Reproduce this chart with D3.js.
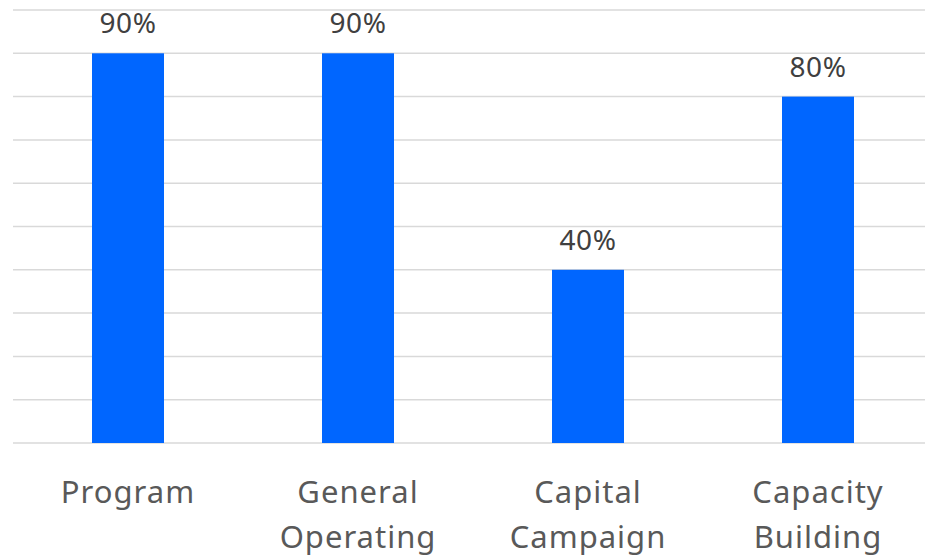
<!DOCTYPE html>
<html>
<head>
<meta charset="utf-8">
<script src="https://cdn.jsdelivr.net/npm/d3@7"></script>
<style>
  html, body { margin: 0; padding: 0; background: #fff; }
  svg { display: block; }
</style>
</head>
<body>
<svg id="chart" width="925" height="558"></svg>
<script>
// Share of funders offering each type of support
const categories = [["Program"], ["General", "Operating"], ["Capital", "Campaign"], ["Capacity", "Building"]];
const values = [90, 90, 40, 80];
const gridTicks = [0, 10, 20, 30, 40, 50, 60, 70, 80, 90, 100];

const W = 925, H = 558;
const svg = d3.select("#chart");

const keys = categories.map(c => c.join(" "));
const x = d3.scaleBand()
  .domain(keys)
  .range([13, 933])
  .paddingInner(0.687)
  .paddingOuter(0.3435);

const y = d3.scaleLinear().domain([0, 100]).range([443, 10]);

// horizontal gridlines
svg.append("g")
  .selectAll("line")
  .data(gridTicks)
  .join("line")
  .attr("x1", 13).attr("x2", W)
  .attr("y1", d => y(d)).attr("y2", d => y(d))
  .attr("stroke", "#d9d9d9")
  .attr("stroke-width", 1.5);

// bars
svg.append("g")
  .selectAll("rect")
  .data(values)
  .join("rect")
  .attr("x", (d, i) => x(keys[i]))
  .attr("width", x.bandwidth())
  .attr("y", d => y(d))
  .attr("height", d => y(0) - y(d))
  .attr("fill", "#0066ff");

// value labels above bars
svg.append("g")
  .selectAll("text")
  .data(values)
  .join("text")
  .attr("x", (d, i) => x(keys[i]) + x.bandwidth() / 2)
  .attr("y", d => y(d) - 20)
  .attr("text-anchor", "middle")
  .attr("font-family", "'Noto Sans', sans-serif")
  .attr("font-size", 28)
  .attr("letter-spacing", 0.5)
  .attr("fill", "#404040")
  .text(d => d + "%");

// category labels
const cat = svg.append("g")
  .selectAll("text")
  .data(categories)
  .join("text")
  .attr("x", (d, i) => x(keys[i]) + x.bandwidth() / 2)
  .attr("y", 503)
  .attr("text-anchor", "middle")
  .attr("font-family", "'Noto Sans', sans-serif")
  .attr("font-size", 31)
  .attr("letter-spacing", 1)
  .attr("fill", "#595959");

cat.selectAll("tspan")
  .data(d => d)
  .join("tspan")
  .attr("x", function () { return d3.select(this.parentNode).attr("x"); })
  .attr("dy", (d, i) => i === 0 ? 0 : 45)
  .text(d => d);
</script>
</body>
</html>
